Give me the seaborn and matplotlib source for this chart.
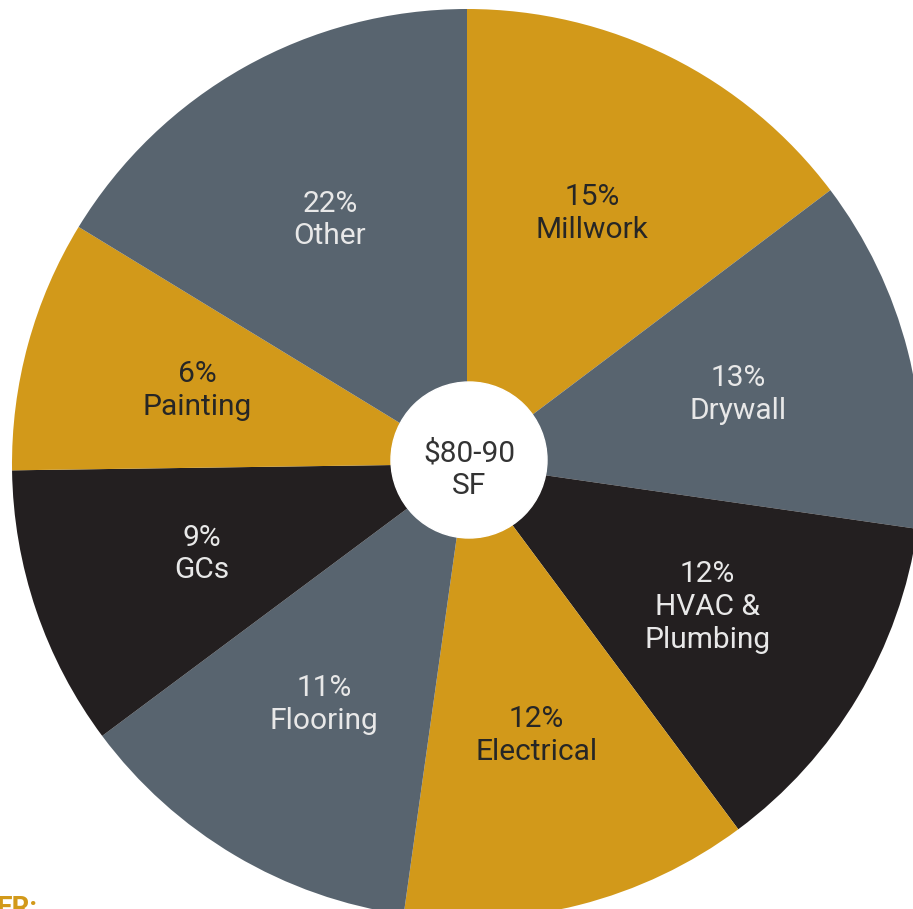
import seaborn as sns
import matplotlib.pyplot as plt
from matplotlib.patches import Circle

sns.set_theme(style="white")
plt.rcParams['font.family'] = ['Roboto', 'DejaVu Sans']

# slices, clockwise from the top
categories = ['Millwork', 'Drywall', 'HVAC &\nPlumbing', 'Electrical',
              'Flooring', 'GCs', 'Painting', 'Other']
pct_labels = ['15%', '13%', '12%', '12%', '11%', '9%', '6%', '22%']
# wedge sizes as drawn in the picture (degrees)
shares = [53.0, 45.2, 45.2, 44.6, 45.3, 35.9, 32.2, 58.6]
center_label = '$80-90\nSF'

gold = '#D2991A'
slate = '#58646F'
black = '#231F20'
colors = sns.color_palette([gold, slate, black, gold, slate, black, gold, slate])
text_colors = ['#262626', '#E8E8E8', '#E8E8E8', '#262626',
               '#E8E8E8', '#E8E8E8', '#262626', '#E8E8E8']

fig = plt.figure(figsize=(9.13, 9.09), dpi=100)
ax = fig.add_axes([0, 0, 1, 1])

labels = [p + '\n' + c for p, c in zip(pct_labels, categories)]
wedges, texts = ax.pie(shares, colors=colors, labels=labels, startangle=90,
                       counterclock=False, center=(467, 445), radius=455,
                       labeldistance=0.615, wedgeprops=dict(linewidth=0))
for t, c in zip(texts, text_colors):
    t.set_ha('center')
    t.set_va('center')
    t.set_multialignment('center')
    t.set_color(c)
    t.set_fontsize(21.5)
    t.set_linespacing(1.22)

ax.add_patch(Circle((469, 449), 78, color='white', zorder=3))
ax.text(469, 439, center_label, ha='center', va='center', fontsize=21.5,
        color='#333333', linespacing=1.22, zorder=4)

ax.text(-4, 14, 'ER:', ha='left', va='top', fontsize=20, color=gold,
        fontweight='bold')

ax.set_xlim(0, 913)
ax.set_ylim(0, 909)
ax.set_aspect('equal')
ax.axis('off')

plt.savefig('out.png', dpi=100)
